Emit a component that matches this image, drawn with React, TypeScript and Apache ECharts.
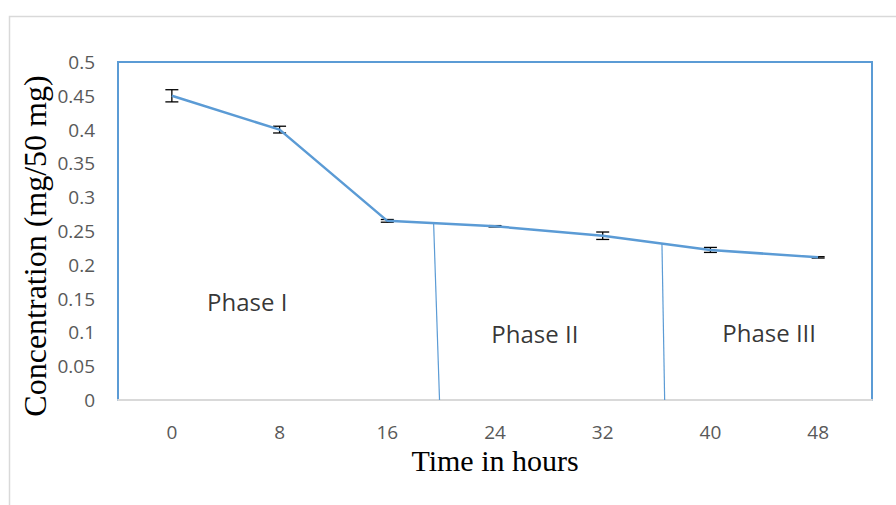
import React, { useEffect, useRef } from 'react';
import * as echarts from 'echarts';

const hours = ['0', '8', '16', '24', '32', '40', '48'];
const concentration = [0.45, 0.4, 0.265, 0.257, 0.243, 0.222, 0.211];
const errorMargins = [0.009, 0.005, 0.002, 0.001, 0.0055, 0.0037, 0.001];
const phaseNames = ['Phase I', 'Phase II', 'Phase III'];
const phaseLabelAt = [
  [0.7, 0.146],
  [3.37, 0.099],
  [5.545, 0.1],
];
const phaseDividers = [
  [
    [2.43, 0.262],
    [2.485, 0],
  ],
  [
    [4.55, 0.231],
    [4.575, 0],
  ],
];
const yAxisTitle = 'Concentration (mg/50 mg)';
const xAxisTitle = 'Time in hours';

const BLUE = '#5B9BD5';

export default function App() {
  const ref = useRef<HTMLDivElement>(null);
  useEffect(() => {
    if (!ref.current) return;
    const chart = echarts.init(ref.current, null, { renderer: 'svg' });
    const option: any = {
      animation: false,
      backgroundColor: '#ffffff',
      grid: {
        left: 118,
        top: 62,
        right: 24,
        bottom: 105,
        show: true,
        borderColor: BLUE,
        borderWidth: 2,
        backgroundColor: 'transparent',
      },
      xAxis: [
        {
          type: 'category',
          data: hours,
          boundaryGap: true,
          axisLine: { onZero: false, lineStyle: { color: '#d9d9d9', width: 2 } },
          axisTick: { show: false },
          axisLabel: {
            fontFamily: 'Open Sans',
            fontSize: 19,
            lineHeight: 18,
            color: '#595959',
            margin: 23,
          },
        },
        { type: 'value', min: -0.5, max: 6.5, show: false },
      ],
      yAxis: {
        type: 'value',
        min: 0,
        max: 0.5,
        interval: 0.05,
        axisLine: { show: true, onZero: false, lineStyle: { color: BLUE, width: 2 } },
        axisTick: { show: false },
        splitLine: { show: false },
        axisLabel: {
          fontFamily: 'Open Sans',
          fontSize: 19,
          color: '#595959',
          margin: 23,
        },
      },
      graphic: [
        {
          type: 'rect',
          shape: { x: 9.5, y: 16.5, width: 1000, height: 1000 },
          style: { fill: 'none', stroke: '#d9d9d9', lineWidth: 1.5 },
          silent: true,
        },
        {
          type: 'text',
          x: 35,
          y: 246,
          rotation: Math.PI / 2,
          style: {
            text: yAxisTitle,
            fontFamily: 'Liberation Serif',
            fontSize: 32,
            lineHeight: 30,
            fill: '#000',
            textAlign: 'center',
            textVerticalAlign: 'middle',
          },
        },
        {
          type: 'text',
          x: 495,
          y: 460,
          style: {
            text: xAxisTitle,
            fontFamily: 'Liberation Serif',
            fontSize: 30,
            lineHeight: 26,
            fill: '#000',
            textAlign: 'center',
            textVerticalAlign: 'middle',
          },
        },
      ],
      series: [
        {
          type: 'custom',
          xAxisIndex: 0,
          z: 1,
          data: concentration.map((c, i) => [i, c - errorMargins[i], c + errorMargins[i]]),
          encode: { x: 0, y: [1, 2] },
          renderItem: (params: any, api: any) => {
            const x = api.value(0);
            const lo = api.coord([x, api.value(1)]);
            const hi = api.coord([x, api.value(2)]);
            const w = 6.5;
            const style = { stroke: '#000', lineWidth: 1.3 };
            return {
              type: 'group',
              children: [
                { type: 'line', shape: { x1: lo[0], y1: lo[1], x2: hi[0], y2: hi[1] }, style },
                { type: 'line', shape: { x1: lo[0] - w, y1: lo[1], x2: lo[0] + w, y2: lo[1] }, style },
                { type: 'line', shape: { x1: hi[0] - w, y1: hi[1], x2: hi[0] + w, y2: hi[1] }, style },
              ],
            };
          },
        },
        {
          type: 'line',
          xAxisIndex: 0,
          z: 3,
          data: concentration,
          symbol: 'none',
          lineStyle: { color: BLUE, width: 2.5 },
        },
        ...phaseDividers.map((d) => ({
          type: 'line',
          xAxisIndex: 1,
          z: 2,
          data: d,
          symbol: 'none',
          lineStyle: { color: BLUE, width: 1.2 },
        })),
        {
          type: 'scatter',
          xAxisIndex: 1,
          symbolSize: 1,
          itemStyle: { color: 'transparent' },
          data: phaseLabelAt.map((p, i) => ({ value: p, name: phaseNames[i] })),
          label: {
            show: true,
            position: 'inside',
            formatter: (p: any) => p.name,
            fontFamily: 'Open Sans',
            fontSize: 24,
            color: '#000',
          },
        },
      ],
    };
    chart.setOption(option);
    return () => chart.dispose();
  }, []);
  return (
    <div
      ref={ref}
      style={{ position: 'fixed', left: 0, top: 0, width: 896, height: 505 }}
    />
  );
}
